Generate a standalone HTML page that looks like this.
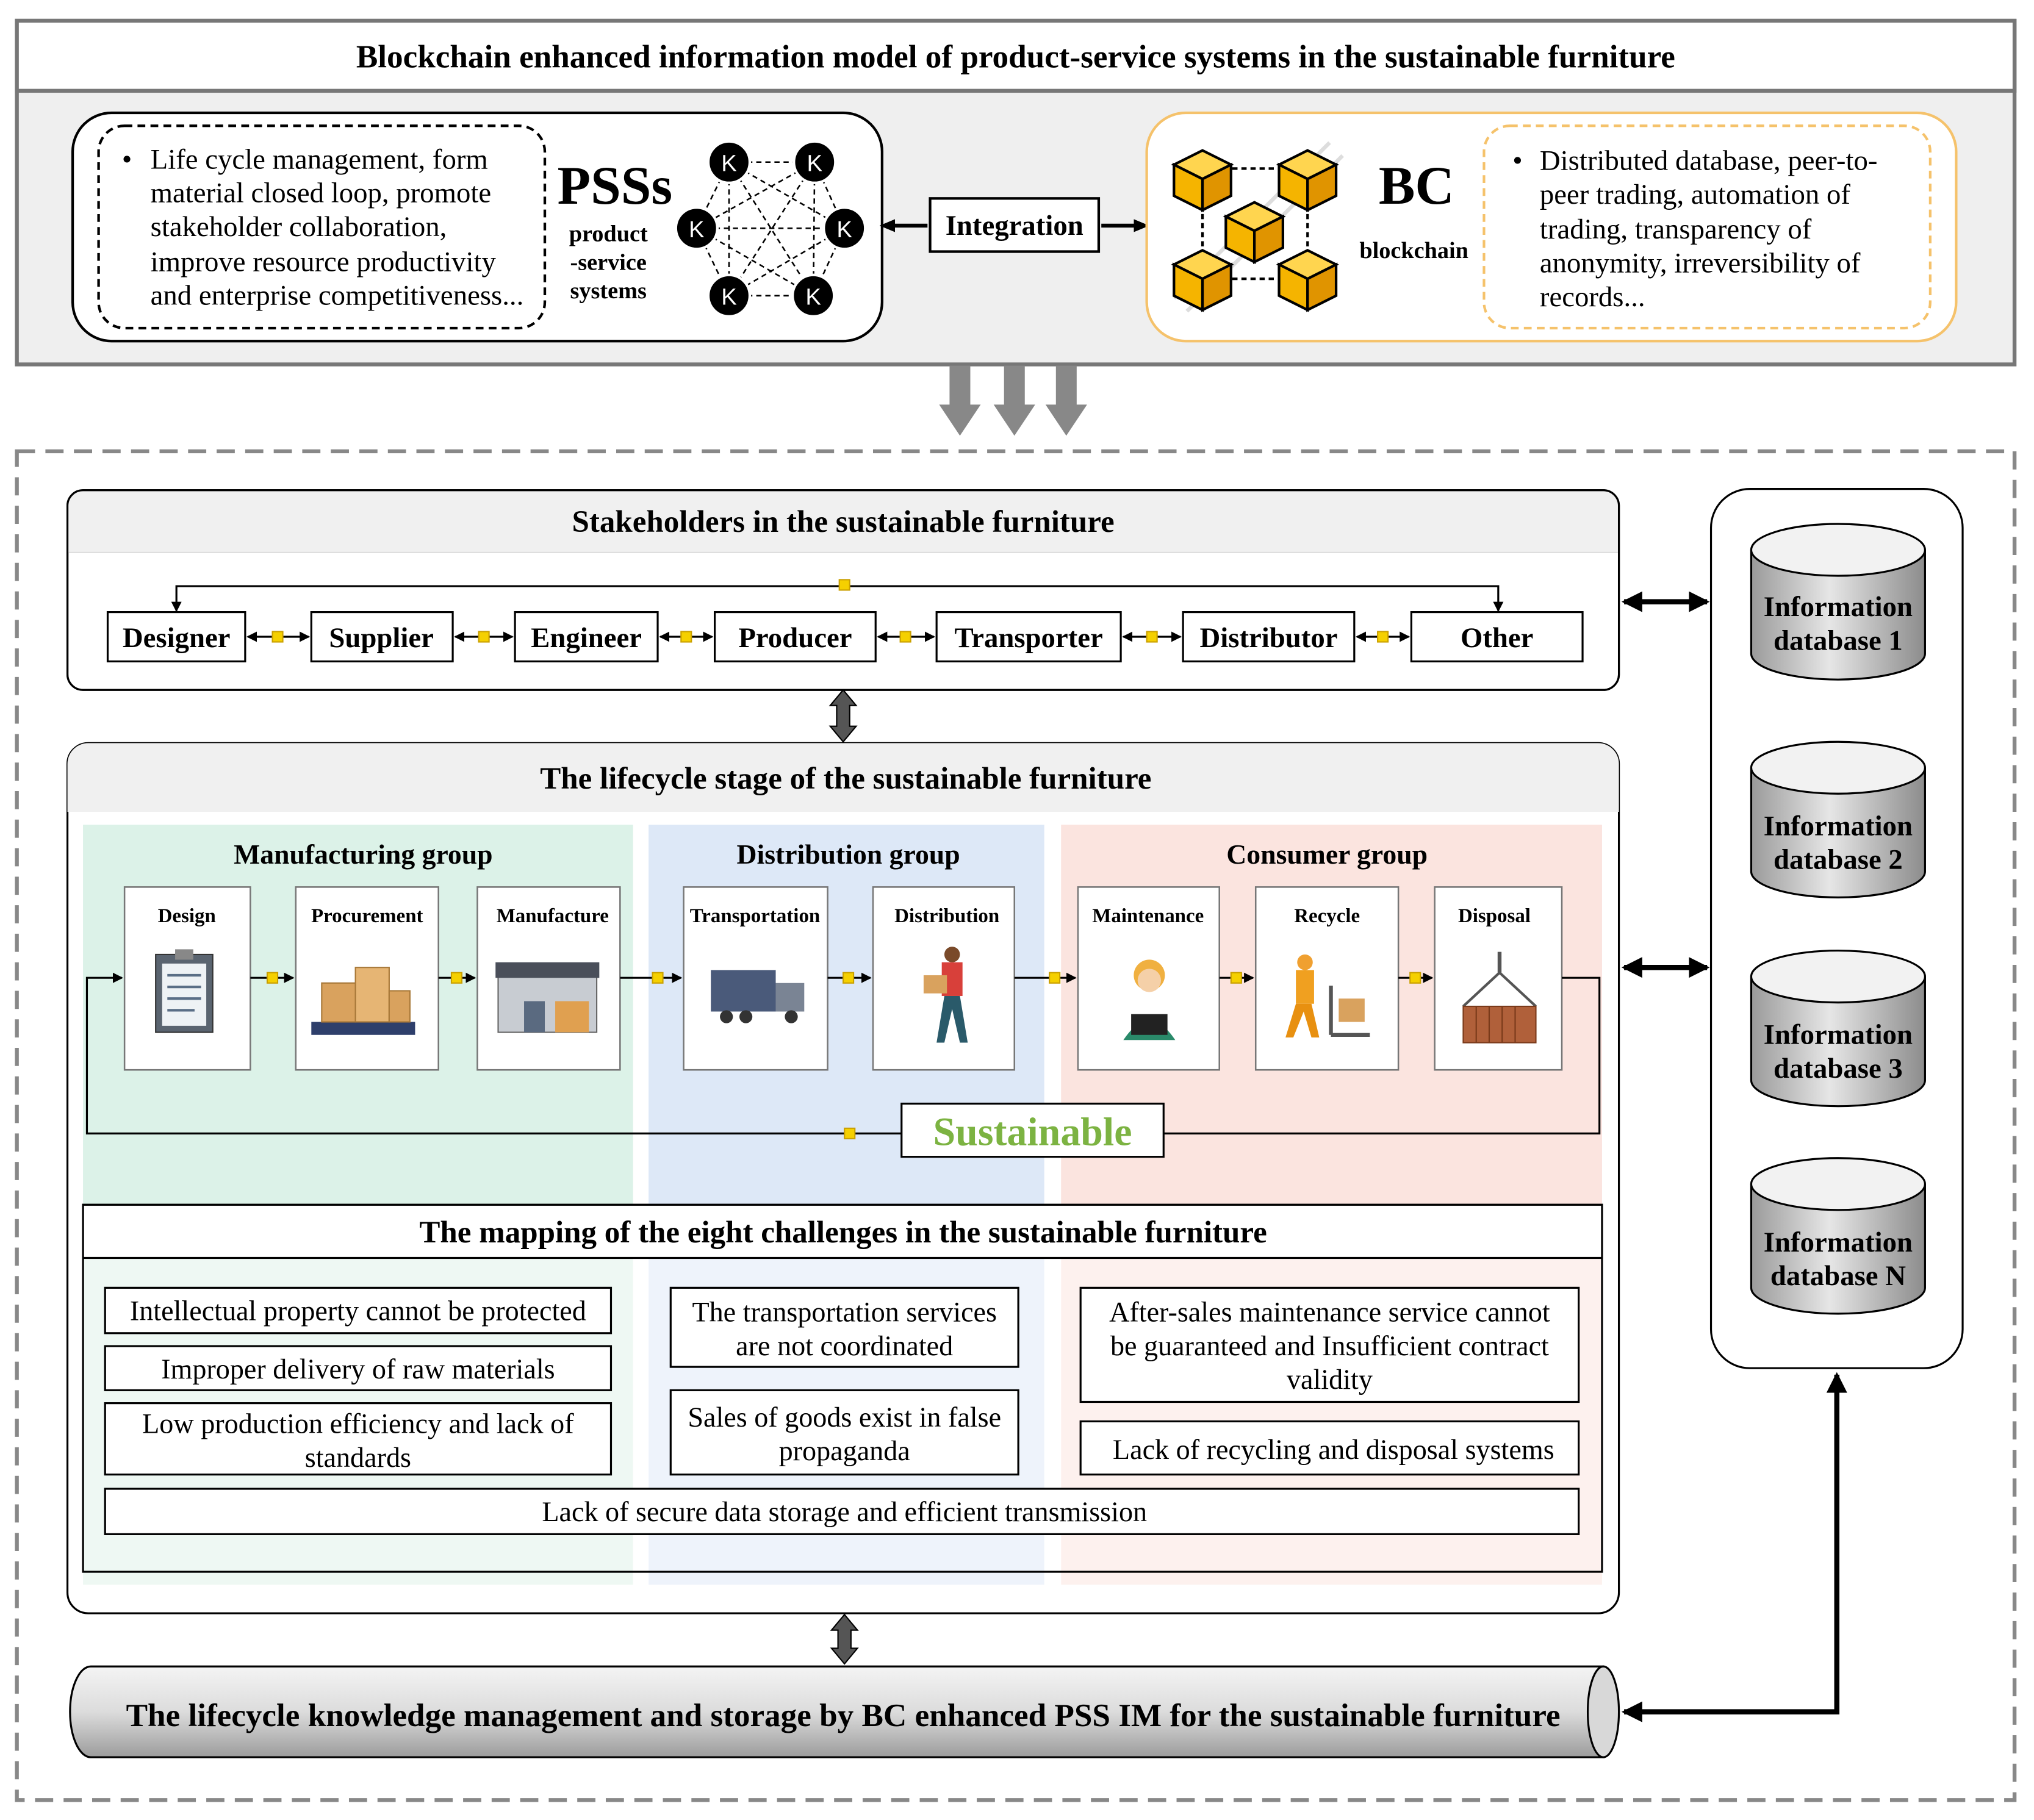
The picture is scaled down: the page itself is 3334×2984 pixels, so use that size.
<!DOCTYPE html>
<html><head><meta charset="utf-8"><style>
html,body{margin:0;padding:0;background:#fff;}
svg{display:block;}
text{font-family:"Liberation Serif",serif;}
.b{font-weight:bold;}
</style></head><body>
<svg width="3334" height="2984" viewBox="0 0 1568 1403.4" xmlns="http://www.w3.org/2000/svg">
<defs>
<marker id="ah" markerWidth="8" markerHeight="8" refX="7" refY="4" orient="auto-start-reverse" markerUnits="userSpaceOnUse"><path d="M0,0 L8,4 L0,8 z" fill="#000"/></marker>
<marker id="ahs" markerWidth="12" markerHeight="12" refX="6" refY="6" orient="auto-start-reverse" markerUnits="userSpaceOnUse"><path d="M0,1 L12,6 L0,11 z" fill="#000"/></marker>
<marker id="aL" markerWidth="16" markerHeight="16" refX="14" refY="8" orient="auto-start-reverse" markerUnits="userSpaceOnUse"><path d="M0,0 L16,8 L0,16 z" fill="#000"/></marker>
<linearGradient id="cyl" x1="0" x2="1"><stop offset="0" stop-color="#9a9a9a"/><stop offset="0.45" stop-color="#e6e6e6"/><stop offset="1" stop-color="#8c8c8c"/></linearGradient>
<linearGradient id="hcyl" x1="0" y1="0" x2="0" y2="1"><stop offset="0" stop-color="#f4f4f4"/><stop offset="0.5" stop-color="#dcdcdc"/><stop offset="1" stop-color="#9c9c9c"/></linearGradient>
<g id="cube"><path d="M0,-22 L22,-11 L0,0 L-22,-11 z" fill="#ffd54f" stroke="#000" stroke-width="2"/><path d="M-22,-11 L0,0 L0,24 L-22,13 z" fill="#f5b400" stroke="#000" stroke-width="2"/><path d="M22,-11 L0,0 L0,24 L22,13 z" fill="#e09400" stroke="#000" stroke-width="2"/></g>
<g id="yb"><rect x="-4" y="-4" width="8" height="8" fill="#f5d000" stroke="#caa000" stroke-width="1"/></g>
</defs>

<rect x="13" y="16" width="1540" height="265" fill="#efefef" stroke="#777" stroke-width="3"/>
<rect x="13" y="16" width="1540" height="54" fill="#fff" stroke="#777" stroke-width="3"/>
<text x="783" y="52" font-size="25" class="b" text-anchor="middle">Blockchain enhanced information model of product-service systems  in the sustainable furniture</text>

<rect x="56" y="87" width="624" height="176" rx="30" fill="#fff" stroke="#000" stroke-width="2"/>
<rect x="76" y="97" width="344" height="156" rx="20" fill="none" stroke="#000" stroke-width="2" stroke-dasharray="6,4"/>
<g font-size="22">
<text x="94" y="130">•</text>
<text x="116" y="130">Life cycle management, form</text>
<text x="116" y="156">material closed loop, promote</text>
<text x="116" y="182">stakeholder collaboration,</text>
<text x="116" y="209">improve resource productivity</text>
<text x="116" y="235">and enterprise competitiveness...</text>
</g>
<text x="474" y="157" font-size="42" class="b" text-anchor="middle">PSSs</text>
<g font-size="18" class="b" text-anchor="middle"><text x="469" y="186">product</text><text x="469" y="208">-service</text><text x="469" y="230">systems</text></g>
<g stroke="#000" stroke-width="1.2" stroke-dasharray="4,3">
<line x1="562" y1="125" x2="628" y2="125"/><line x1="562" y1="125" x2="537" y2="176"/><line x1="562" y1="125" x2="651" y2="176"/><line x1="562" y1="125" x2="562" y2="228"/><line x1="562" y1="125" x2="627" y2="228"/>
<line x1="628" y1="125" x2="537" y2="176"/><line x1="628" y1="125" x2="651" y2="176"/><line x1="628" y1="125" x2="562" y2="228"/><line x1="628" y1="125" x2="627" y2="228"/>
<line x1="537" y1="176" x2="651" y2="176"/><line x1="537" y1="176" x2="562" y2="228"/><line x1="537" y1="176" x2="627" y2="228"/>
<line x1="651" y1="176" x2="562" y2="228"/><line x1="651" y1="176" x2="627" y2="228"/><line x1="562" y1="228" x2="627" y2="228"/>
</g>
<g fill="#000" stroke="#fff" stroke-width="2">
<circle cx="562" cy="125" r="16"/><circle cx="628" cy="125" r="16"/><circle cx="537" cy="176" r="16"/><circle cx="651" cy="176" r="16"/><circle cx="562" cy="228" r="16"/><circle cx="627" cy="228" r="16"/>
</g>
<g fill="#fff" font-size="18" text-anchor="middle">
<text x="562" y="132" style="font-family:'Liberation Sans',sans-serif">K</text><text x="628" y="132" style="font-family:'Liberation Sans',sans-serif">K</text><text x="537" y="183" style="font-family:'Liberation Sans',sans-serif">K</text><text x="651" y="183" style="font-family:'Liberation Sans',sans-serif">K</text><text x="562" y="235" style="font-family:'Liberation Sans',sans-serif">K</text><text x="627" y="235" style="font-family:'Liberation Sans',sans-serif">K</text>
</g>

<line x1="715" y1="174" x2="684" y2="174" stroke="#000" stroke-width="3" marker-end="url(#ahs)"/>
<line x1="849" y1="174" x2="880" y2="174" stroke="#000" stroke-width="3" marker-end="url(#ahs)"/>
<rect x="717" y="153" width="130" height="41" fill="#fff" stroke="#000" stroke-width="2"/>
<text x="782" y="181" font-size="22" class="b" text-anchor="middle">Integration</text>

<rect x="884" y="87" width="624" height="176" rx="30" fill="#fff" stroke="#f5c26b" stroke-width="2"/>
<rect x="1144" y="97" width="344" height="156" rx="20" fill="none" stroke="#f5c26b" stroke-width="2" stroke-dasharray="6,4"/>
<g stroke="#ddd" stroke-width="3"><line x1="905" y1="230" x2="1025" y2="110"/><line x1="915" y1="240" x2="1035" y2="120"/></g>
<g stroke="#000" stroke-width="2" stroke-dasharray="4,3"><line x1="950" y1="130" x2="985" y2="130"/><line x1="950" y1="215" x2="985" y2="215"/><line x1="927" y1="165" x2="927" y2="195"/><line x1="1008" y1="165" x2="1008" y2="195"/></g>
<use href="#cube" x="927" y="138"/><use href="#cube" x="1008" y="138"/><use href="#cube" x="967" y="178"/><use href="#cube" x="927" y="215"/><use href="#cube" x="1008" y="215"/>
<text x="1092" y="157" font-size="42" class="b" text-anchor="middle">BC</text>
<text x="1090" y="199" font-size="18" class="b" text-anchor="middle">blockchain</text>
<g font-size="22">
<text x="1166" y="131">•</text>
<text x="1187" y="131">Distributed database, peer-to-</text>
<text x="1187" y="157">peer trading, automation of</text>
<text x="1187" y="184">trading, transparency of</text>
<text x="1187" y="210">anonymity, irreversibility of</text>
<text x="1187" y="236">records...</text>
</g>

<g fill="#888"><path d="M732,282 h16 v30 h8 l-16,24 l-16,-24 h8z"/><path d="M774,282 h16 v30 h8 l-16,24 l-16,-24 h8z"/><path d="M814,282 h16 v30 h8 l-16,24 l-16,-24 h8z"/></g>

<rect x="13" y="348" width="1540" height="1040" fill="none" stroke="#888" stroke-width="3" stroke-dasharray="14,8"/>

<rect x="52" y="378" width="1196" height="154" rx="12" fill="#fff" stroke="#000" stroke-width="1.5"/>
<path d="M64,378 H1236 A12,12 0 0 1 1248,390 V426 H52 V390 A12,12 0 0 1 64,378z" fill="#f0f0f0"/>
<line x1="52" y1="426" x2="1248" y2="426" stroke="#ddd"/>
<rect x="52" y="378" width="1196" height="154" rx="12" fill="none" stroke="#000" stroke-width="1.5"/>
<text x="650" y="410" font-size="24" class="b" text-anchor="middle">Stakeholders in the sustainable furniture</text>
<polyline points="136,471 136,452 1155,452 1155,471" fill="none" stroke="#000" stroke-width="1.5" marker-start="url(#ah)" marker-end="url(#ah)"/>
<use href="#yb" x="651" y="451"/>
<g fill="#fff" stroke="#000" stroke-width="1.5">
<rect x="83" y="472" width="106" height="38"/><rect x="240" y="472" width="109" height="38"/><rect x="397" y="472" width="110" height="38"/><rect x="551" y="472" width="124" height="38"/><rect x="722" y="472" width="142" height="38"/><rect x="912" y="472" width="132" height="38"/><rect x="1088" y="472" width="132" height="38"/>
</g>
<g font-size="22" class="b" text-anchor="middle">
<text x="136" y="499">Designer</text><text x="294" y="499">Supplier</text><text x="452" y="499">Engineer</text><text x="613" y="499">Producer</text><text x="793" y="499">Transporter</text><text x="978" y="499">Distributor</text><text x="1154" y="499">Other</text>
</g>
<g stroke="#000" stroke-width="1.5" marker-start="url(#ah)" marker-end="url(#ah)">
<line x1="191" y1="491" x2="238" y2="491"/><line x1="351" y1="491" x2="395" y2="491"/><line x1="509" y1="491" x2="549" y2="491"/><line x1="677" y1="491" x2="720" y2="491"/><line x1="866" y1="491" x2="910" y2="491"/><line x1="1046" y1="491" x2="1086" y2="491"/>
</g>
<use href="#yb" x="214" y="491"/><use href="#yb" x="373" y="491"/><use href="#yb" x="529" y="491"/><use href="#yb" x="698" y="491"/><use href="#yb" x="888" y="491"/><use href="#yb" x="1066" y="491"/>

<path d="M650,532 l10,12 h-5 v16 h5 l-10,12 l-10,-12 h5 v-16 h-5z" fill="#555" stroke="#000"/>
<path d="M651,1245 l10,12 h-5 v14 h5 l-10,12 l-10,-12 h5 v-14 h-5z" fill="#555" stroke="#000"/>

<rect x="52" y="573" width="1196" height="671" rx="16" fill="#fff" stroke="#000" stroke-width="1.5"/>
<path d="M68,573 H1232 A16,16 0 0 1 1248,589 V626 H52 V589 A16,16 0 0 1 68,573z" fill="#f0f0f0"/>
<text x="652" y="608" font-size="24" class="b" text-anchor="middle">The lifecycle stage of the sustainable furniture</text>
<rect x="64" y="636" width="424" height="586" fill="#eef8f3"/>
<rect x="500" y="636" width="305" height="586" fill="#eef3fb"/>
<rect x="818" y="636" width="417" height="586" fill="#fdf1ee"/>
<rect x="64" y="636" width="424" height="293" fill="#dcf2e8"/>
<rect x="500" y="636" width="305" height="293" fill="#dde8f7"/>
<rect x="818" y="636" width="417" height="293" fill="#fbe4df"/>
<g font-size="21.5" class="b" text-anchor="middle"><text x="280" y="666">Manufacturing group</text><text x="654" y="666">Distribution group</text><text x="1023" y="666">Consumer group</text></g>

<g fill="#fff" stroke="#777" stroke-width="1.2">
<rect x="96" y="684" width="97" height="141"/><rect x="228" y="684" width="110" height="141"/><rect x="368" y="684" width="110" height="141"/><rect x="527" y="684" width="111" height="141"/><rect x="673" y="684" width="109" height="141"/><rect x="831" y="684" width="109" height="141"/><rect x="968" y="684" width="110" height="141"/><rect x="1106" y="684" width="98" height="141"/>
</g>
<g font-size="15.5" class="b" text-anchor="middle">
<text x="144" y="711">Design</text><text x="283" y="711">Procurement</text><text x="426" y="711">Manufacture</text><text x="582" y="711">Transportation</text><text x="730" y="711">Distribution</text><text x="885" y="711">Maintenance</text><text x="1023" y="711">Recycle</text><text x="1152" y="711">Disposal</text>
</g>
<g>
<rect x="120" y="736" width="44" height="60" fill="#5a6470" stroke="#333"/><rect x="125" y="743" width="34" height="48" fill="#eef2f5"/><rect x="135" y="732" width="14" height="8" fill="#888"/>
<g stroke="#5a6e86" stroke-width="2"><line x1="129" y1="752" x2="155" y2="752"/><line x1="129" y1="761" x2="155" y2="761"/><line x1="129" y1="770" x2="155" y2="770"/><line x1="129" y1="779" x2="150" y2="779"/></g>
<rect x="240" y="788" width="80" height="10" fill="#2e3f6b"/>
<rect x="248" y="758" width="26" height="30" fill="#d9a25e" stroke="#a87838"/><rect x="274" y="746" width="26" height="42" fill="#e6b574" stroke="#a87838"/><rect x="300" y="764" width="16" height="24" fill="#d9a25e" stroke="#a87838"/>
<rect x="384" y="752" width="76" height="44" fill="#c8ccd2" stroke="#666"/><rect x="382" y="742" width="80" height="12" fill="#4a4f5a"/><rect x="404" y="772" width="16" height="24" fill="#5a6a80"/><rect x="428" y="772" width="26" height="24" fill="#e0a050"/>
<rect x="548" y="748" width="50" height="32" fill="#4a5a7a"/><rect x="598" y="758" width="22" height="22" fill="#7a8494"/><g fill="#333"><circle cx="560" cy="784" r="5"/><circle cx="575" cy="784" r="5"/><circle cx="610" cy="784" r="5"/></g>
<circle cx="734" cy="736" r="6" fill="#7a4a2a"/><rect x="726" y="742" width="16" height="26" fill="#d8403a"/><rect x="712" y="752" width="18" height="14" fill="#d9a25e"/><path d="M728,768 l-6,36 h6 l6,-26 l6,26 h6 l-6,-36z" fill="#2a5a6a"/>
<circle cx="886" cy="752" r="12" fill="#f0b040"/><circle cx="886" cy="756" r="9" fill="#f5d0a8"/><path d="M866,802 q20,-30 40,0z" fill="#2a8a6a"/><rect x="872" y="782" width="28" height="16" fill="#222"/>
<circle cx="1006" cy="742" r="6" fill="#f0a030"/><rect x="999" y="748" width="14" height="26" fill="#f0a020"/><path d="M999,774 l-8,26 h6 l8,-20 l6,20 h6 l-6,-26z" fill="#e89010"/><rect x="1032" y="770" width="20" height="18" fill="#d9a25e"/><line x1="1026" y1="760" x2="1026" y2="798" stroke="#555" stroke-width="3"/><line x1="1026" y1="798" x2="1056" y2="798" stroke="#555" stroke-width="3"/>
<line x1="1156" y1="734" x2="1156" y2="750" stroke="#555" stroke-width="3"/><path d="M1156,750 l-28,26 M1156,750 l28,26" stroke="#555" stroke-width="2"/><rect x="1128" y="776" width="56" height="28" fill="#b0603a" stroke="#7a3a1a"/>
<g stroke="#7a3a1a"><line x1="1138" y1="776" x2="1138" y2="804"/><line x1="1148" y1="776" x2="1148" y2="804"/><line x1="1158" y1="776" x2="1158" y2="804"/><line x1="1168" y1="776" x2="1168" y2="804"/></g>
</g>
<g stroke="#000" stroke-width="1.5" marker-end="url(#ah)">
<line x1="193" y1="754" x2="226" y2="754"/><line x1="338" y1="754" x2="366" y2="754"/><line x1="478" y1="754" x2="525" y2="754"/><line x1="638" y1="754" x2="671" y2="754"/><line x1="782" y1="754" x2="829" y2="754"/><line x1="940" y1="754" x2="966" y2="754"/><line x1="1078" y1="754" x2="1104" y2="754"/>
</g>
<use href="#yb" x="210" y="754"/><use href="#yb" x="352" y="754"/><use href="#yb" x="507" y="754"/><use href="#yb" x="654" y="754"/><use href="#yb" x="813" y="754"/><use href="#yb" x="953" y="754"/><use href="#yb" x="1091" y="754"/>
<polyline points="1204,754 1233,754 1233,874 67,874 67,754 94,754" fill="none" stroke="#000" stroke-width="1.5" marker-end="url(#ah)"/>
<use href="#yb" x="655" y="874"/>
<rect x="695" y="851" width="202" height="41" fill="#fff" stroke="#000" stroke-width="1.5"/>
<text x="796" y="883" font-size="31" class="b" fill="#7cb342" text-anchor="middle">Sustainable</text>

<rect x="64" y="929" width="1171" height="283" fill="none" stroke="#000" stroke-width="1.5"/>
<rect x="64" y="929" width="1171" height="41" fill="#fff" stroke="#000" stroke-width="1.5"/>
<text x="650" y="958" font-size="24" class="b" text-anchor="middle">The mapping of the eight challenges in the sustainable furniture</text>
<g fill="#fff" stroke="#000" stroke-width="1.5">
<rect x="81" y="993" width="390" height="35"/><rect x="81" y="1038" width="390" height="34"/><rect x="81" y="1082" width="390" height="55"/>
<rect x="517" y="993" width="268" height="61"/><rect x="517" y="1072" width="268" height="65"/>
<rect x="833" y="993" width="384" height="88"/><rect x="833" y="1096" width="384" height="41"/>
<rect x="81" y="1148" width="1136" height="35"/>
</g>
<g font-size="21.7" text-anchor="middle">
<text x="276" y="1018">Intellectual property cannot be protected</text>
<text x="276" y="1063">Improper delivery of raw materials</text>
<text x="276" y="1105">Low production efficiency and lack of</text><text x="276" y="1131">standards</text>
<text x="651" y="1019">The transportation services</text><text x="651" y="1045">are not coordinated</text>
<text x="651" y="1100">Sales of goods exist in false</text><text x="651" y="1126">propaganda</text>
<text x="1025" y="1019">After-sales maintenance service cannot</text><text x="1025" y="1045">be guaranteed and Insufficient contract</text><text x="1025" y="1071">validity</text>
<text x="1028" y="1125">Lack of recycling and disposal systems</text>
<text x="651" y="1173">Lack of secure data storage and efficient transmission</text>
</g>

<path d="M70,1285 H1236 V1355 H70 A16,35 0 0 1 70,1285z" fill="url(#hcyl)" stroke="#000" stroke-width="1.5"/>
<ellipse cx="1236" cy="1320" rx="12" ry="35" fill="#d8d8d8" stroke="#000" stroke-width="1.5"/>
<text x="650" y="1331" font-size="25" class="b" text-anchor="middle">The lifecycle knowledge management and storage by BC enhanced PSS IM for the sustainable furniture</text>

<rect x="1319" y="377" width="194" height="678" rx="30" fill="#fff" stroke="#000" stroke-width="1.5"/>
<g stroke="#000" stroke-width="1.5">
<path d="M1350,424 V504 A67,20 0 0 0 1484,504 V424" fill="url(#cyl)"/><ellipse cx="1417" cy="424" rx="67" ry="20" fill="#f2f2f2"/>
<path d="M1350,592 V672 A67,20 0 0 0 1484,672 V592" fill="url(#cyl)"/><ellipse cx="1417" cy="592" rx="67" ry="20" fill="#f2f2f2"/>
<path d="M1350,753 V833 A67,20 0 0 0 1484,833 V753" fill="url(#cyl)"/><ellipse cx="1417" cy="753" rx="67" ry="20" fill="#f2f2f2"/>
<path d="M1350,913 V993 A67,20 0 0 0 1484,993 V913" fill="url(#cyl)"/><ellipse cx="1417" cy="913" rx="67" ry="20" fill="#f2f2f2"/>
</g>
<g font-size="22" class="b" text-anchor="middle">
<text x="1417" y="475">Information</text><text x="1417" y="501">database 1</text>
<text x="1417" y="644">Information</text><text x="1417" y="670">database 2</text>
<text x="1417" y="805">Information</text><text x="1417" y="831">database 3</text>
<text x="1417" y="965">Information</text><text x="1417" y="991">database N</text>
</g>
<g stroke="#000" stroke-width="4" marker-start="url(#aL)" marker-end="url(#aL)">
<line x1="1252" y1="464" x2="1316" y2="464"/><line x1="1252" y1="746" x2="1316" y2="746"/>
</g>
<polyline points="1252,1320 1416,1320 1416,1060" fill="none" stroke="#000" stroke-width="4" marker-start="url(#aL)" marker-end="url(#aL)"/>
</svg>
</body></html>
